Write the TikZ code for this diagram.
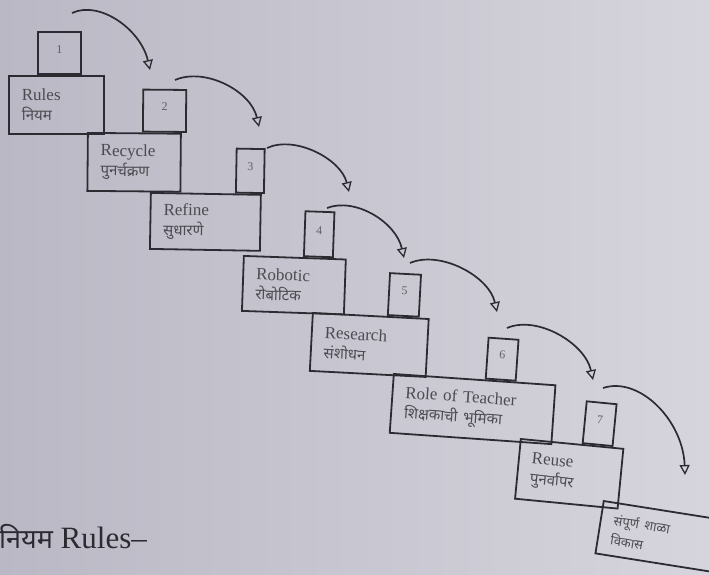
\documentclass[tikz,border=0pt]{standalone}
\usepackage{fontspec}
\setmainfont{Liberation Serif}
\newfontfamily\dev[Script=Devanagari]{Noto Sans}
\usetikzlibrary{arrows.meta}
\definecolor{bgL}{RGB}{186,184,196}
\definecolor{bgR}{RGB}{214,213,221}
\definecolor{ink}{RGB}{45,43,50}
\tikzset{
  bigbox/.style={draw=ink, line width=1.8pt, anchor=north west, inner xsep=13pt, inner ysep=0pt,
    align=left, font=\fontsize{17}{20}\selectfont, text=ink!85},
  numbox/.style={draw=ink, line width=1.8pt, anchor=south west, inner sep=0pt,
    font=\fontsize{12}{12}\selectfont, text=ink!75},
  flow/.style={draw=ink, line width=1.7pt, -{Triangle[open, length=10pt, width=10pt, line width=1.3pt]}},
}
\newcommand{\dv}[1]{{\dev\fontsize{15}{20}\selectfont #1}}
\newcommand{\dvs}[1]{{\dev\fontsize{13}{18}\selectfont #1}}
\begin{document}
\begin{tikzpicture}[x=1pt, y=-1pt]
\shade[left color=bgL, right color=bgR] (0,0) rectangle (709,575);
\useasboundingbox (0,0) rectangle (709,575);

% step 1
\begin{scope}[shift={(8,75)}, rotate=0, every node/.append style={transform shape}]
  \node[bigbox, minimum width=95, minimum height=58, text width=69] (b1) at (0,0) {Rules\\\dv{नियम}};
  \node[numbox, minimum width=43, minimum height=42] (n1) at (29,0) {\raisebox{8pt}{1}};
\end{scope}
% step 2
\begin{scope}[shift={(87,132)}, rotate=-0.5, every node/.append style={transform shape}]
  \node[bigbox, minimum width=93, minimum height=58, text width=67] (b2) at (0,0) {Recycle\\\dv{पुनर्चक्रण}};
  \node[numbox, minimum width=43, minimum height=42] (n2) at (55,0) {\raisebox{8pt}{2}};
\end{scope}
% step 3
\begin{scope}[shift={(150,192)}, rotate=-1, every node/.append style={transform shape}]
  \node[bigbox, minimum width=110, minimum height=56, text width=84] (b3) at (0,0) {Refine\\\dv{सुधारणे}};
  \node[numbox, minimum width=28, minimum height=44] (n3) at (85,0) {\raisebox{8pt}{3}};
\end{scope}
% step 4
\begin{scope}[shift={(243,255)}, rotate=-2, every node/.append style={transform shape}]
  \node[bigbox, minimum width=102, minimum height=55, text width=76] (b4) at (0,0) {Robotic\\\dv{रोबोटिक}};
  \node[numbox, minimum width=29, minimum height=45] (n4) at (60,0) {\raisebox{8pt}{4}};
\end{scope}
% step 5
\begin{scope}[shift={(312,312)}, rotate=-3, every node/.append style={transform shape}]
  \node[bigbox, minimum width=116, minimum height=58, text width=90] (b5) at (0,0) {Research\\\dv{संशोधन}};
  \node[numbox, minimum width=31, minimum height=42] (n5) at (75,0) {\raisebox{8pt}{5}};
\end{scope}
% step 6
\begin{scope}[shift={(393,373)}, rotate=-4, every node/.append style={transform shape}]
  \node[bigbox, minimum width=162, minimum height=59, text width=136] (b6) at (0,0) {Role of Teacher\\\dv{शिक्षकाची भूमिका}};
  \node[numbox, minimum width=30, minimum height=41] (n6) at (92,0) {\raisebox{8pt}{6}};
\end{scope}
% step 7
\begin{scope}[shift={(520,438)}, rotate=-5.5, every node/.append style={transform shape}]
  \node[bigbox, minimum width=103, minimum height=60, text width=77] (b7) at (0,0) {Reuse\\\dv{पुनर्वापर}};
  \node[numbox, minimum width=30, minimum height=42] (n7) at (62,0) {\raisebox{8pt}{7}};
\end{scope}
% step 8
\begin{scope}[shift={(603,500)}, rotate=-9, every node/.append style={transform shape}]
  \node[bigbox, minimum width=120, minimum height=53, text width=94] (b8) at (0,0) {\dvs{संपूर्ण शाळा}\\\dvs{विकास}};
\end{scope}

% arrows
\coordinate (a1s) at (72,13);   \coordinate (a1e) at (150,70);
\coordinate (a2s) at (175,80);  \coordinate (a2e) at (259,127);
\coordinate (a3s) at (267,148); \coordinate (a3e) at (349,192);
\coordinate (a4s) at (327,208); \coordinate (a4e) at (404,258);
\coordinate (a5s) at (410,263); \coordinate (a5e) at (497,312);
\coordinate (a6s) at (507,328); \coordinate (a6e) at (593,380);
\coordinate (a7s) at (603,388); \coordinate (a7e) at (685,475);

\draw[flow] (a1s) .. controls +(28,-13) and +(-9,-40) .. (a1e);
\draw[flow] (a2s) .. controls +(30,-13) and +(-8,-36) .. (a2e);
\draw[flow] (a3s) .. controls +(28,-13) and +(-8,-33) .. (a3e);
\draw[flow] (a4s) .. controls +(28,-11) and +(-8,-36) .. (a4e);
\draw[flow] (a5s) .. controls +(30,-13) and +(-8,-36) .. (a5e);
\draw[flow] (a6s) .. controls +(30,-13) and +(-8,-37) .. (a6e);
\draw[flow] (a7s) .. controls +(36,-12) and +(-2,-55) .. (a7e);

% heading
\node[anchor=base west, inner sep=0pt, font=\fontsize{31}{31}\selectfont, text=ink] (title) at (-1,548)
  {{\dev\bfseries\fontsize{27}{31}\selectfont नियम} Rules–};
\end{tikzpicture}
\end{document}
